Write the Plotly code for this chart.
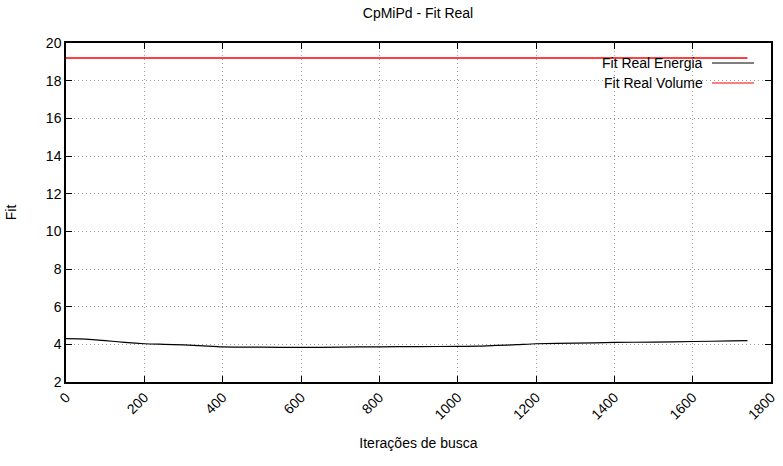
import plotly.graph_objects as go

iteracoes = [0, 50, 100, 150, 200, 250, 300, 350, 400, 500, 600, 700, 800, 900, 1000, 1050, 1100, 1150, 1200, 1300, 1400, 1500, 1600, 1700, 1740]
fit_energia = [4.30, 4.28, 4.20, 4.10, 4.03, 4.00, 3.97, 3.92, 3.87, 3.85, 3.84, 3.85, 3.87, 3.88, 3.89, 3.90, 3.94, 3.98, 4.03, 4.06, 4.10, 4.12, 4.15, 4.18, 4.20]
iteracoes_volume = [0, 1740]
fit_volume = [19.2, 19.2]

title = "CpMiPd - Fit Real"
x_label = "Iterações de busca"
y_label = "Fit"
series_names = ["Fit Real Energia", "Fit Real Volume"]
series_colors = ["black", "#ff0000"]

FAM = "Liberation Sans, Arial, sans-serif"
font = dict(family=FAM, size=14, color="black")

W, H = 783, 466
L, R, T, B = 66, 12, 43, 84
pw, ph = W - L - R, H - T - B

def px_x(p):
    return (p - L) / pw

def px_y(p):
    return (H - B - p) / ph

fig = go.Figure()
fig.add_trace(go.Scatter(x=iteracoes, y=fit_energia, mode="lines", name=series_names[0],
                         line=dict(color=series_colors[0], width=1.2, shape="spline", smoothing=0.6),
                         showlegend=False))
fig.add_trace(go.Scatter(x=iteracoes_volume, y=fit_volume, mode="lines", name=series_names[1],
                         line=dict(color=series_colors[1], width=1.5), showlegend=False))

axis_common = dict(showline=True, linecolor="black", linewidth=1.5, mirror="ticks",
                   ticks="inside", ticklen=6, tickcolor="black", tickwidth=1,
                   showgrid=True, gridcolor="#a0a0a0", griddash="1px,3px", gridwidth=1,
                   zeroline=False, tickfont=font, automargin=False)

# custom gnuplot-style key: text right-aligned, sample line to the right
shapes = [dict(type="rect", xref="paper", yref="paper",
               x0=px_x(567), x1=px_x(762), y0=px_y(94), y1=px_y(56),
               fillcolor="white", line=dict(width=0), layer="between")]
annotations = []
for i, (name, col) in enumerate(zip(series_names, series_colors)):
    yy = px_y(63 + 20 * i)
    annotations.append(dict(text=name, xref="paper", yref="paper", x=px_x(705), y=yy,
                            xanchor="right", yanchor="middle", showarrow=False, font=font))
    shapes.append(dict(type="line", xref="paper", yref="paper", x0=px_x(712), x1=px_x(754),
                       y0=yy, y1=yy, line=dict(color=col, width=1.2)))

fig.update_layout(
    width=W, height=H,
    margin=dict(l=L, r=R, t=T, b=B, autoexpand=False),
    paper_bgcolor="white", plot_bgcolor="white",
    font=font,
    title=dict(text=title, x=418 / W, xanchor="center",
               y=1 - 13 / H, yanchor="middle", font=font),
    xaxis=dict(range=[0, 1800], dtick=200, tickangle=-45,
               title=dict(text=x_label, standoff=17, font=font), **axis_common),
    yaxis=dict(range=[2, 20], dtick=2,
               title=dict(text=y_label, standoff=26, font=font), **axis_common),
    shapes=shapes,
    annotations=annotations,
    showlegend=False,
)

fig.write_html("out.html", config={"displayModeBar": False},
               post_script="document.body.style.margin='0px';")
